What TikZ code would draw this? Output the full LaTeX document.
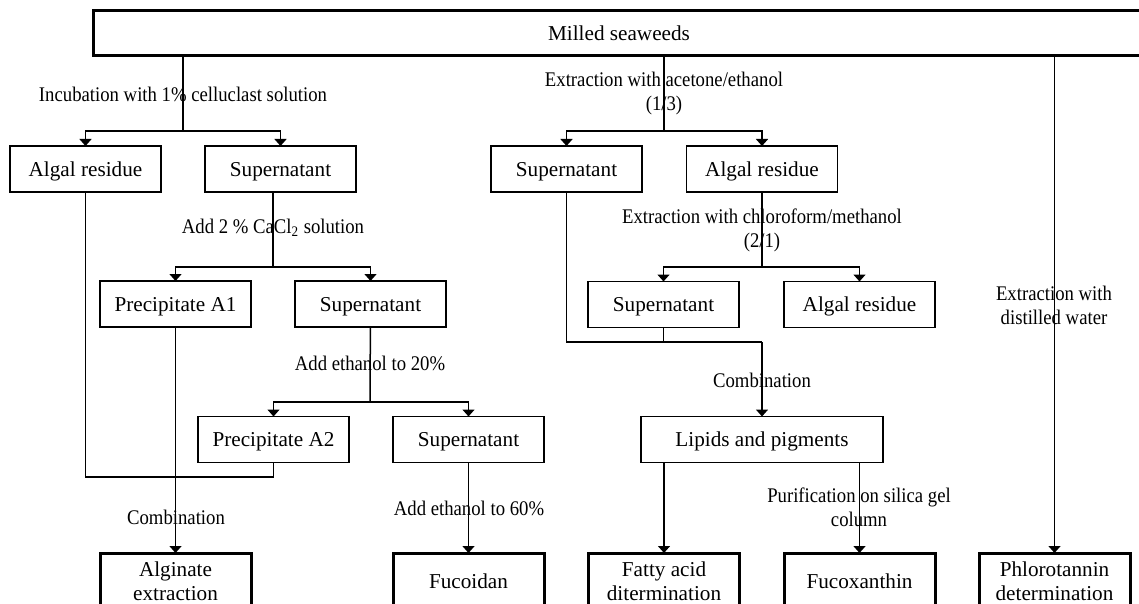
\documentclass[tikz,border=0pt]{standalone}
\usepackage{fontspec}
\setmainfont{Liberation Serif}
\usetikzlibrary{arrows.meta}

\begin{document}
\begin{tikzpicture}[x=0.5pt, y=-0.5pt, font=\fontsize{10.6}{12.2}\selectfont,
        box/.style={draw, line width=0.75pt, minimum width=75.5pt, minimum height=23pt, inner sep=0pt, outer sep=0pt, text height=7.3pt, text depth=0pt},
        endbox/.style={draw, line width=1.5pt, minimum width=75.5pt, minimum height=28pt, inner sep=0pt, outer sep=0pt, align=center},
        lbl/.style={inner sep=0pt, align=center, font=\fontsize{10.4}{12}\selectfont, xscale=0.9, transform shape},
        line/.style={line width=0.75pt},
        arr/.style={line, -{Triangle[width=6pt,length=3.5pt]}}]
        \useasboundingbox (0,0) rectangle (1139,604);

        \node[box, line width=1.5pt, minimum width=526pt, minimum height=22.5pt] (top) at (619,33.5) {Milled seaweeds};

        \node[box] (alg1) at (85.5,169) {Algal residue};
        \node[box] (sup1) at (280.5,169) {Supernatant};
        \node[box] (ppA1) at (175.5,304) {Precipitate A1};
        \node[box] (sup2) at (370.5,304) {Supernatant};
        \node[box] (ppA2) at (273.5,439.5) {Precipitate A2};
        \node[box] (sup3) at (468.5,439.5) {Supernatant};

        \node[box] (supB1) at (566.5,169) {Supernatant};
        \node[box] (algB1) at (762,169) {Algal residue};
        \node[box] (supB2) at (663.5,304.5) {Supernatant};
        \node[box] (algB2) at (859.5,304.5) {Algal residue};
        \node[box, minimum width=121pt] (lipids) at (762,439.5) {Lipids and pigments};

        \node[endbox] (alginate) at (175.5,581) {Alginate\\extraction};
        \node[endbox] (fucoidan) at (468.5,581) {Fucoidan};
        \node[endbox] (fatty) at (664,581) {Fatty acid\\ditermination};
        \node[endbox] (fucox) at (859.5,581) {Fucoxanthin};
        \node[endbox] (phloro) at (1054.5,581) {Phlorotannin\\determination};

        \coordinate (s1) at (183,131);
        \coordinate (s2) at (273,267);
        \coordinate (s3) at (370,402);
        \coordinate (s4) at (664,131);
        \coordinate (s5) at (762,267);
        \coordinate (j1) at (273.5,477);
        \coordinate (j2) at (762,342);

        \draw[line] (top.south -| s1) -- (s1);
        \draw[arr] (s1) -| (alg1);
        \draw[arr] (s1) -| (sup1);
        \draw[line] (sup1.south -| s2) -- (s2);
        \draw[arr] (s2) -| (ppA1);
        \draw[arr] (s2) -| (sup2);
        \draw[line] (sup2) -- (s3);
        \draw[arr] (s3) -| (ppA2);
        \draw[arr] (s3) -| (sup3);
        \draw[line] (alg1) |- (j1) -- (ppA2);
        \draw[arr] (ppA1) -- (alginate);
        \draw[arr] (sup3) -- (fucoidan);

        \draw[line] (top.south -| s4) -- (s4);
        \draw[arr] (s4) -| (supB1);
        \draw[arr] (s4) -| (algB1);
        \draw[line] (algB1) -- (s5);
        \draw[arr] (s5) -| (supB2);
        \draw[arr] (s5) -| (algB2);
        \draw[line] (supB1) |- (j2);
        \draw[line] (supB2) -- (supB2 |- j2);
        \draw[arr] (j2) -- (lipids);
        \draw[arr] (lipids.south -| fatty) -- (fatty);
        \draw[arr] (lipids.south -| fucox) -- (fucox);

        \draw[arr] (top.south -| phloro) -- (phloro);

        \node[lbl] (l1) at (183,94) {Incubation with 1\% celluclast solution};
        \node[lbl] (l2) at (273,228) {Add 2 \% CaCl\textsubscript{2} solution};
        \node[lbl] (l3) at (370,363) {Add ethanol to 20\%};
        \node[lbl] (l4) at (176,517) {Combination};
        \node[lbl] (l5) at (469,508) {Add ethanol to 60\%};
        \node[lbl] (l6) at (664,94) {Extraction with acetone/ethanol\\(1/3)};
        \node[lbl] (l7) at (762,230) {Extraction with chloroform/methanol\\(2/1)};
        \node[lbl] (l8) at (762,380) {Combination};
        \node[lbl] (l9) at (859,507) {Purification on silica gel\\column};
        \node[lbl] (l10) at (1054,305) {Extraction with\\distilled water};
    \end{tikzpicture}
\end{document}
